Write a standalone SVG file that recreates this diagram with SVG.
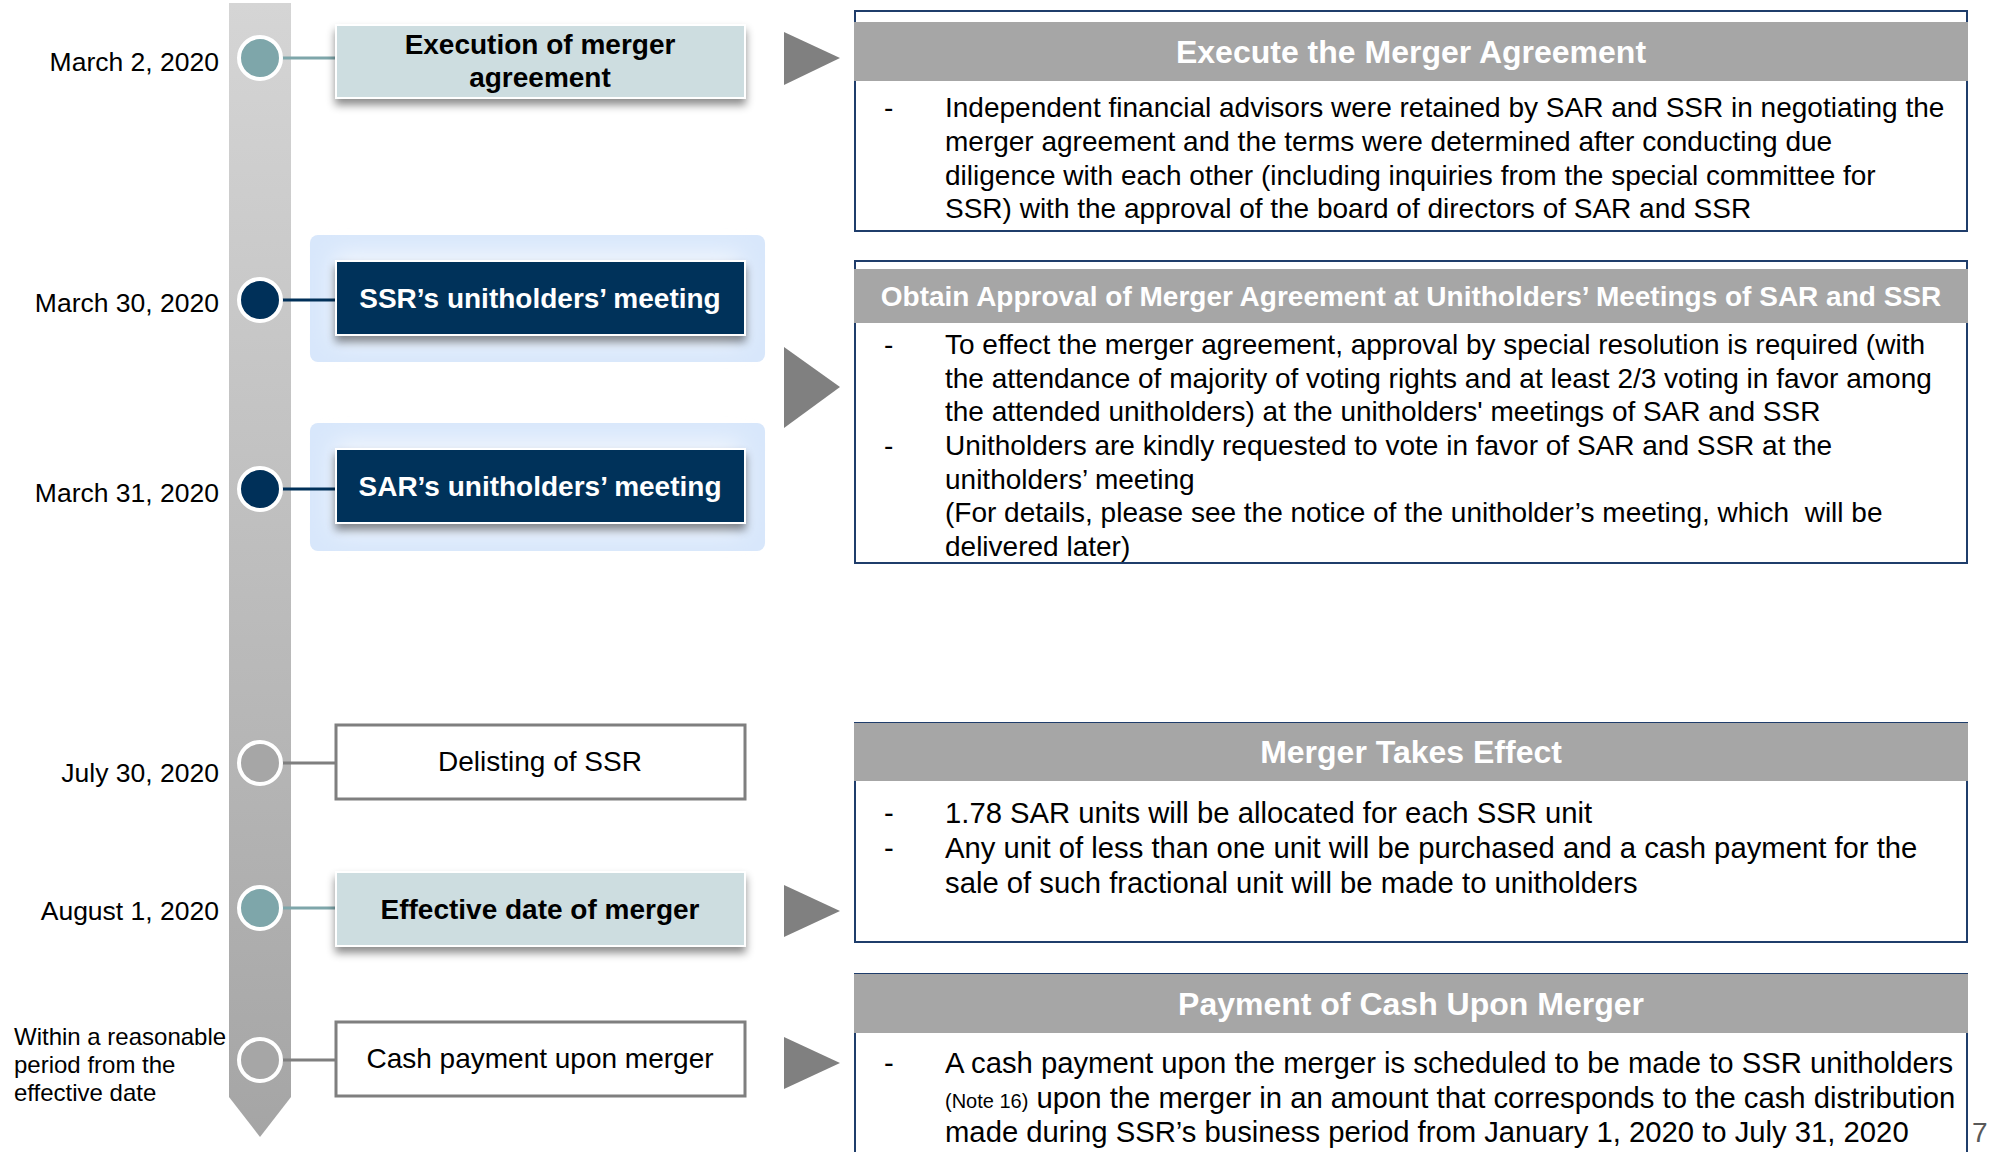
<svg xmlns="http://www.w3.org/2000/svg" width="1993" height="1152" viewBox="0 0 1993 1152">
<defs>
<linearGradient id="barGrad" x1="0" y1="0" x2="0" y2="1">
<stop offset="0" stop-color="#d5d5d5"/>
<stop offset="1" stop-color="#a5a5a5"/>
</linearGradient>
<filter id="shadow" x="-5%" y="-20%" width="110%" height="160%">
<feDropShadow dx="0" dy="6" stdDeviation="4" flood-color="#000" flood-opacity="0.45"/>
</filter>
<filter id="glow" x="-10%" y="-30%" width="120%" height="160%">
<feGaussianBlur stdDeviation="12"/>
</filter>
<style>
text{font-family:"Liberation Sans",Arial,sans-serif;fill:#000}
.date{font-size:26.5px;text-anchor:end}
.note{font-size:24px}
.boxlbl{font-size:28px;text-anchor:middle}
.b{font-weight:bold}
.w{fill:#fff}
.hdr{font-size:32px;font-weight:bold;fill:#fff;text-anchor:middle}
.hdr2{font-size:28px;font-weight:bold;fill:#fff;text-anchor:middle}
.body{font-size:28px}
.body2{font-size:29.25px}
.panel{fill:#fff;stroke:#1f3d6b;stroke-width:2}
.hbar{fill:#a6a6a6}
.tri{fill:#808080}
.teal{fill:#7ea6aa;stroke:#fff;stroke-width:4}
.navy{fill:#003059;stroke:#fff;stroke-width:4}
.grey{fill:#a6a6a6;stroke:#fff;stroke-width:4}
.lteal{stroke:#7ea6aa;stroke-width:3}
.lnavy{stroke:#003059;stroke-width:3}
.lgrey{stroke:#7f7f7f;stroke-width:3}
.bxteal{fill:#cddde0;stroke:#fff;stroke-width:2}
.bxnavy{fill:#00305a;stroke:#fff;stroke-width:2}
.bxwhite{fill:#fff;stroke:#7f7f7f;stroke-width:3}
</style>
</defs>

<g id="timeline">
<polygon points="229,3 291,3 291,1097 260,1137 229,1097" fill="url(#barGrad)"/>
</g>

<g id="halos">
<g id="halo-ssr">
<rect x="310" y="235" width="455" height="127" rx="8" fill="#d8e7fb"/>
<rect x="335" y="255" width="405" height="87" fill="#f6f9fe" filter="url(#glow)"/>
</g>
<g id="halo-sar">
<rect x="310" y="423" width="455" height="128" rx="8" fill="#d8e7fb"/>
<rect x="335" y="443" width="405" height="88" fill="#f6f9fe" filter="url(#glow)"/>
</g>
</g>

<g id="connectors">
<line x1="282" y1="58" x2="336" y2="58" class="lteal"/>
<line x1="282" y1="300" x2="336" y2="300" class="lnavy"/>
<line x1="282" y1="489" x2="336" y2="489" class="lnavy"/>
<line x1="282" y1="763" x2="336" y2="763" class="lgrey"/>
<line x1="282" y1="908" x2="336" y2="908" class="lteal"/>
<line x1="282" y1="1060" x2="336" y2="1060" class="lgrey"/>
<polygon class="tri" points="784,32 784,85 840,58"/>
<polygon class="tri" points="784,347 784,428 840,387"/>
<polygon class="tri" points="784,885 784,937 840,911"/>
<polygon class="tri" points="784,1037 784,1089 840,1063"/>
</g>

<g id="dates">
<text class="date" x="219" y="71">March 2, 2020</text>
<text class="date" x="219" y="312">March 30, 2020</text>
<text class="date" x="219" y="502">March 31, 2020</text>
<text class="date" x="219" y="782">July 30, 2020</text>
<text class="date" x="219" y="920">August 1, 2020</text>
<text class="note" x="14" y="1045">Within a reasonable</text>
<text class="note" x="14" y="1073">period from the</text>
<text class="note" x="14" y="1101">effective date</text>
</g>

<g id="node-mar2">
<circle cx="260" cy="58" r="21" class="teal"/>
<rect x="336" y="25" width="409" height="73" class="bxteal" filter="url(#shadow)"/>
<text class="boxlbl b" x="540" y="54">Execution of merger</text>
<text class="boxlbl b" x="540" y="87">agreement</text>
</g>

<g id="node-mar30">
<circle cx="260" cy="300" r="21" class="navy"/>
<rect x="336" y="261" width="409" height="74" class="bxnavy" filter="url(#shadow)"/>
<text class="boxlbl b w" x="540" y="308">SSR’s unitholders’ meeting</text>
</g>

<g id="node-mar31">
<circle cx="260" cy="489" r="21" class="navy"/>
<rect x="336" y="449" width="409" height="74" class="bxnavy" filter="url(#shadow)"/>
<text class="boxlbl b w" x="540" y="496">SAR’s unitholders’ meeting</text>
</g>

<g id="node-jul30">
<circle cx="260" cy="763" r="21" class="grey"/>
<rect x="336" y="725" width="409" height="74" class="bxwhite"/>
<text class="boxlbl" x="540" y="771">Delisting of SSR</text>
</g>

<g id="node-aug1">
<circle cx="260" cy="908" r="21" class="teal"/>
<rect x="336" y="872" width="409" height="74" class="bxteal" filter="url(#shadow)"/>
<text class="boxlbl b" x="540" y="919">Effective date of merger</text>
</g>

<g id="node-cash">
<circle cx="260" cy="1060" r="21" class="grey"/>
<rect x="336" y="1022" width="409" height="74" class="bxwhite"/>
<text class="boxlbl" x="540" y="1068">Cash payment upon merger</text>
</g>

<g id="panel-execute">
<rect class="panel" x="855" y="11" width="1112" height="220"/>
<rect class="hbar" x="854" y="22" width="1114" height="59"/>
<text class="hdr" x="1411" y="63">Execute the Merger Agreement</text>
<text class="body" x="884" y="117">-</text>
<text class="body" x="945" y="117">Independent financial advisors were retained by SAR and SSR in negotiating the</text>
<text class="body" x="945" y="151">merger agreement and the terms were determined after conducting due</text>
<text class="body" x="945" y="185">diligence with each other (including inquiries from the special committee for</text>
<text class="body" x="945" y="218">SSR) with the approval of the board of directors of SAR and SSR</text>
</g>

<g id="panel-approval">
<rect class="panel" x="855" y="261" width="1112" height="302"/>
<rect class="hbar" x="854" y="269" width="1114" height="54"/>
<text class="hdr2" x="1411" y="306">Obtain Approval of Merger Agreement at Unitholders’ Meetings of SAR and SSR</text>
<text class="body" x="884" y="354">-</text>
<text class="body" x="945" y="354">To effect the merger agreement, approval by special resolution is required (with</text>
<text class="body" x="945" y="388">the attendance of majority of voting rights and at least 2/3 voting in favor among</text>
<text class="body" x="945" y="421">the attended unitholders) at the unitholders' meetings of SAR and SSR</text>
<text class="body" x="884" y="455">-</text>
<text class="body" x="945" y="455">Unitholders are kindly requested to vote in favor of SAR and SSR at the</text>
<text class="body" x="945" y="489">unitholders’ meeting</text>
<text class="body" x="945" y="522" xml:space="preserve">(For details, please see the notice of the unitholder’s meeting, which  will be</text>
<text class="body" x="945" y="556">delivered later)</text>
</g>

<g id="panel-effect">
<rect class="panel" x="855" y="723" width="1112" height="219"/>
<rect class="hbar" x="854" y="723" width="1114" height="58"/>
<text class="hdr" x="1411" y="763">Merger Takes Effect</text>
<text class="body2" x="884" y="823">-</text>
<text class="body2" x="945" y="823">1.78 SAR units will be allocated for each SSR unit</text>
<text class="body2" x="884" y="858">-</text>
<text class="body2" x="945" y="858">Any unit of less than one unit will be purchased and a cash payment for the</text>
<text class="body2" x="945" y="893">sale of such fractional unit will be made to unitholders</text>
</g>

<g id="panel-cash">
<rect class="panel" x="855" y="974" width="1112" height="200"/>
<rect class="hbar" x="854" y="974" width="1114" height="59"/>
<text class="hdr" x="1411" y="1015">Payment of Cash Upon Merger</text>
<text class="body2" x="884" y="1073">-</text>
<text class="body2" x="945" y="1073">A cash payment upon the merger is scheduled to be made to SSR unitholders</text>
<text class="body2" x="945" y="1108"><tspan font-size="20px">(Note 16)</tspan> upon the merger in an amount that corresponds to the cash distribution</text>
<text class="body2" x="945" y="1142">made during SSR’s business period from January 1, 2020 to July 31, 2020</text>
</g>

<text x="1972" y="1142" font-size="28px" style="fill:#595959">7</text>
</svg>
